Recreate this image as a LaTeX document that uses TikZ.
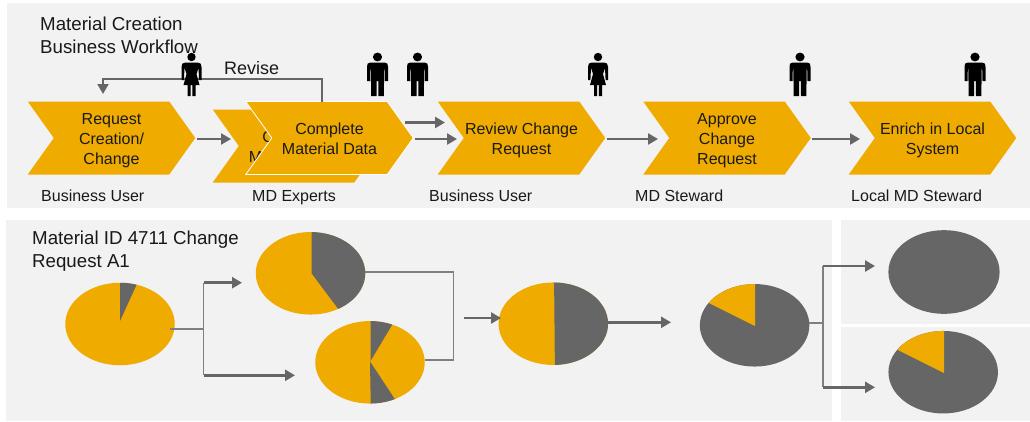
\documentclass[tikz,border=0pt]{standalone}
\usepackage{fontspec}
\setmainfont{Liberation Sans}
\usetikzlibrary{shapes.symbols,shapes.geometric,arrows.meta}
\definecolor{sapgold}{HTML}{F0AB00}
\definecolor{pieslate}{HTML}{666666}
\definecolor{linegrey}{HTML}{7F7F7F}
\definecolor{panelgrey}{HTML}{F2F2F2}
\tikzset{
  panel/.style={fill=panelgrey,draw=none},
  chev/.style={shape=signal,signal to=east,signal from=west,signal pointer angle=109,
    fill=sapgold,draw=none,inner sep=0pt,outer sep=0pt,minimum width=167.5pt,minimum height=73pt,
    text=black!90,font=\fontsize{16}{20}\selectfont},
  lab/.style={anchor=base west,inner sep=0pt,text=black!90,font=\fontsize{16}{19}\selectfont},
  ttl/.style={anchor=north west,inner sep=0pt,align=left,text=black!90,font=\fontsize{18.7}{22.8}\selectfont},
  piebase/.style={shape=ellipse,fill=#1,draw=none,inner sep=0pt,outer sep=0pt,minimum width=109.5pt,minimum height=82.5pt},
  flow/.style={line width=2.6pt,draw=pieslate,-{Triangle[length=10pt,width=11pt]}},
  thinline/.style={line width=1.4pt,draw=linegrey},
  wedgefill/.style={fill=#1,draw=none},
  personfill/.style={fill=black,draw=none},
}
\newcommand{\ctext}[1]{\raisebox{-7pt}[0pt][0pt]{\begin{tabular}{@{}c@{}}#1\end{tabular}}}
\newcommand{\piewedge}[3]{\begin{scope}\clip (#1.center) ellipse [x radius=54.75pt,y radius=41.25pt];\fill[wedgefill=#2] #3;\end{scope}}
\newcommand{\manicon}[1]{\begin{scope}[shift={(#1)}]
  \fill[personfill] (0,4) ellipse [x radius=4.6pt,y radius=4.4pt];
  \fill[personfill] (-7,9.5) -- (7,9.5) .. controls (10,9.5) and (10.5,11) .. (10.5,14) -- (10.5,28) -- (7.5,28) -- (7.2,16) -- (6.6,16) -- (6.4,43) -- (1,43) -- (0.8,28) -- (-0.8,28) -- (-1,43) -- (-6.4,43) -- (-6.6,16) -- (-7.2,16) -- (-7.5,28) -- (-10.5,28) -- (-10.5,14) .. controls (-10.5,11) and (-10,9.5) .. (-7,9.5) -- cycle;
\end{scope}}
\newcommand{\womanicon}[1]{\begin{scope}[shift={(#1)}]
  \fill[personfill] (0,4) ellipse [x radius=4.2pt,y radius=4.2pt];
  \fill[personfill] (-6,9.5) -- (6,9.5) .. controls (9,9.5) and (10,11) .. (10,14) -- (10,27) -- (7.6,27) -- (7,15) -- (5,21) -- (8,32) -- (4,32) -- (4,43) -- (0.8,43) -- (0.8,32) -- (-0.8,32) -- (-0.8,43) -- (-4,43) -- (-4,32) -- (-8,32) -- (-5,21) -- (-7,15) -- (-7.6,27) -- (-10,27) -- (-10,14) .. controls (-10,11) and (-9,9.5) .. (-6,9.5) -- cycle;
\end{scope}}
\begin{document}
\begin{tikzpicture}[x=1pt,y=-1pt]
\useasboundingbox (0,0) rectangle (1030,421);
% panels
\fill[panel] (7,3) rectangle (1030,207.5);
\fill[panel] (6,220) rectangle (832,420.5);
\fill[panel] (841,220) rectangle (1030,324);
\fill[panel] (841,327) rectangle (1030,420.5);
% titles
\node[ttl] (title) at (40,16.5) {Material Creation\\Business Workflow};
\node[ttl] (subtitle) at (32,230.5) {Material ID 4711 Change\\Request A1};
% chevrons
\node[chev] (req) at (111.5,138) {\ctext{Request\\Creation/\\Change}};
\node[chev] (hidden) at (296.5,146) {\ctext{Complete\\Material Data}};
\node[chev,draw=white,line width=0.8pt] (complete) at (329.5,138) {\ctext{Complete\\Material Data}};
\node[chev] (review) at (521.5,138) {\ctext{Review Change\\Request}};
\node[chev] (approve) at (727,138) {\ctext{Approve\\Change\\Request}};
\node[chev] (enrich) at (932.5,138) {\ctext{Enrich in Local\\System}};
% role labels
\node[lab] (r1) at (41,201) {Business User};
\node[lab] (r2) at (252,201) {MD Experts};
\node[lab] (r3) at (429,201) {Business User};
\node[lab] (r4) at (635,201) {MD Steward};
\node[lab] (r5) at (851,201) {Local MD Steward};
% revise
\node[lab,font=\fontsize{18}{20}\selectfont] (revlab) at (224,74.5) {Revise};
\coordinate (revstart) at (322,101.5);
\coordinate (revtip) at (103,94);
\draw[line width=2pt,draw=pieslate,-{Triangle[length=10pt,width=11pt]}] (revstart) -- (322,79) -- (103,79) -- (revtip);
% persons
\womanicon{191.5,53}
\manicon{377.5,53}
\manicon{417.5,53}
\womanicon{598,53}
\manicon{800,53}
\manicon{975,53}
% workflow arrows
\coordinate (a1s) at (197,139); \coordinate (a1e) at (231,139);
\draw[flow] (a1s) -- (a1e);
\coordinate (a2s) at (405,122.5); \coordinate (a2e) at (445,122.5);
\draw[flow] (a2s) -- (a2e);
\coordinate (a3s) at (415,139); \coordinate (a3e) at (457,139);
\draw[flow] (a3s) -- (a3e);
\coordinate (a4s) at (607,139); \coordinate (a4e) at (658,139);
\draw[flow] (a4s) -- (a4e);
\coordinate (a5s) at (812,139); \coordinate (a5e) at (860,139);
\draw[flow] (a5s) -- (a5e);
% pies
\node[piebase=sapgold] (p1) at (120,324) {};
\piewedge{p1}{pieslate}{(120,321) -- (120,270) -- (143.3,270) -- cycle}
\node[piebase=sapgold] (p2) at (310.5,273.3) {};
\piewedge{p2}{pieslate}{(311.7,273.5) -- (311.7,220) -- (380,220) -- (380,330) -- (354,330) -- cycle}
\node[piebase=sapgold] (p3) at (370,362.3) {};
\piewedge{p3}{pieslate}{(370.5,361) -- (370.5,310) -- (401,310) -- cycle}
\piewedge{p3}{pieslate}{(370,361.5) -- (371,420) -- (408.7,420) -- cycle}
\node[piebase=sapgold] (p4) at (553.3,323.7) {};
\piewedge{p4}{pieslate}{(554,270) -- (555,380) -- (620,380) -- (620,270) -- cycle}
\node[piebase=pieslate] (p5) at (754.6,325.3) {};
\piewedge{p5}{sapgold}{(755,326) -- (755,270) -- (680,270) -- (680,288.7) -- cycle}
\node[piebase=pieslate,minimum width=111.2pt,minimum height=83.7pt] (p6) at (944,272) {};
\node[piebase=pieslate] (p7) at (943.2,372.2) {};
\piewedge{p7}{sapgold}{(944,373) -- (944,320) -- (870,320) -- (870,336) -- cycle}
% bottom connectors
\coordinate (j1s) at (170,329);
\coordinate (j1) at (203.5,329);
\coordinate (j1u) at (203.5,282.7); \coordinate (j1ut) at (242,282.7);
\coordinate (j1d) at (203.5,375.3); \coordinate (j1dt) at (295,375.3);
\draw[thinline] (j1s) -- (j1) (j1u) -- (j1d);
\draw[flow] (j1u) -- (j1ut);
\draw[flow] (j1d) -- (j1dt);
\coordinate (p2out) at (365,272); \coordinate (p3out) at (425,360);
\coordinate (j2) at (453.5,272); \coordinate (j3) at (453.5,360);
\draw[thinline] (p2out) -- (j2) -- (j3) -- (p3out);
\coordinate (a6s) at (463.5,318); \coordinate (a6e) at (501,318);
\draw[flow] (a6s) -- (a6e);
\coordinate (p4out) at (608,322.3);
\draw[flow] (p4out) -- (671,322.3);
\coordinate (p5out) at (809,323);
\coordinate (j4) at (822.8,323);
\coordinate (j4u) at (822.8,266); \coordinate (j4ut) at (875,266);
\coordinate (j4d) at (822.8,387.3); \coordinate (j4dt) at (875,387.3);
\draw[thinline] (p5out) -- (j4) (j4u) -- (j4d);
\draw[flow] (j4u) -- (j4ut);
\draw[flow] (j4d) -- (j4dt);
\end{tikzpicture}
\end{document}
